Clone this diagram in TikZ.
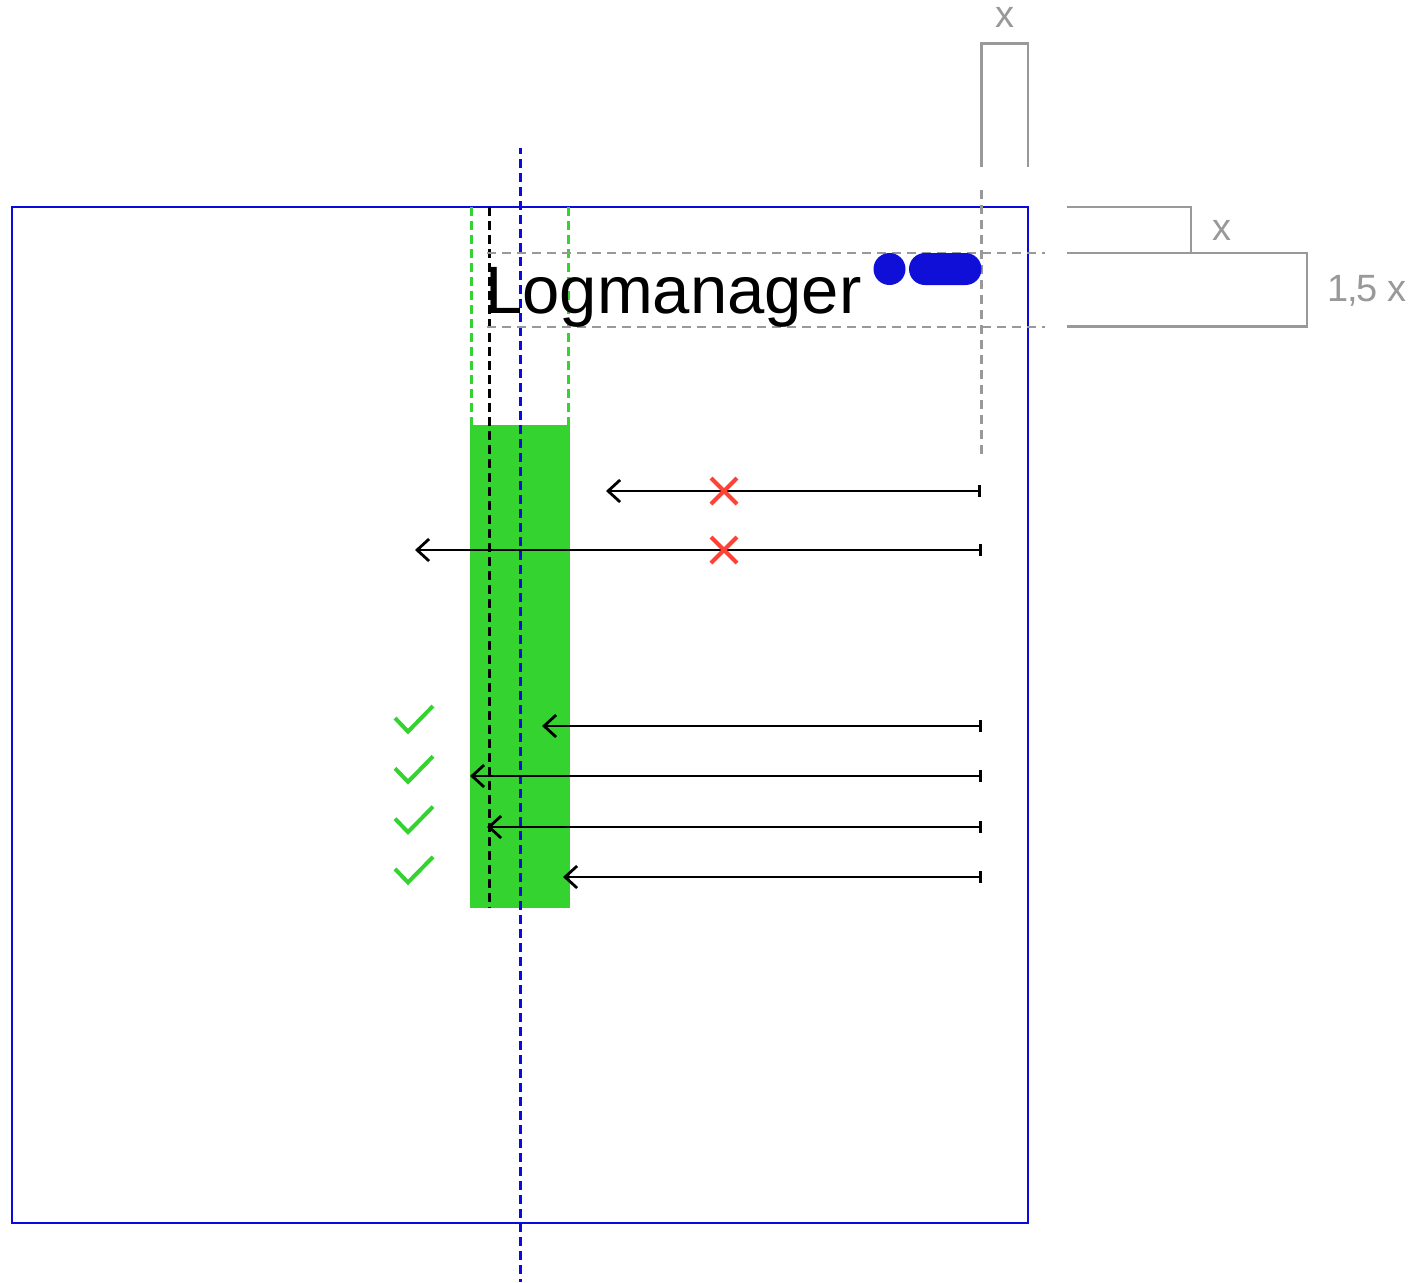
\documentclass[tikz,border=0pt]{standalone}
\usepackage{fontspec}
\setmainfont{Liberation Sans}
\usetikzlibrary{arrows.meta}
\definecolor{frameblue}{HTML}{0A0ADC}
\definecolor{pillblue}{HTML}{0F0FD7}
\definecolor{okgreen}{HTML}{34D330}
\definecolor{badred}{HTML}{FF4136}
\definecolor{guide}{HTML}{999999}
\tikzset{
  guidesolid/.style={draw=guide,line width=1.25pt,line join=miter},
  guidedash/.style={draw=guide,line width=1.3pt,dash pattern=on 4.5pt off 3pt},
  greendash/.style={draw=okgreen,line width=1.25pt,dash pattern=on 4.5pt off 2.5pt},
  blackdash/.style={draw=black,line width=1.5pt,dash pattern=on 4.5pt off 2.5pt},
  bluedash/.style={draw=frameblue,line width=1.5pt,dash pattern=on 4.5pt off 2.5pt,dash phase=1.5pt},
  reach/.style={draw=black,line width=1.4pt,{Straight Barb[length=6pt,width=11pt,line width=1.4pt]}-{Bar[width=6pt,line width=1.4pt]}},
  okmark/.style={draw=okgreen,line width=2pt},
  badmark/.style={draw=badred,line width=2pt},
  dimlabel/.style={text=guide,font=\fontsize{19}{22}\selectfont,inner sep=0pt,anchor=base},
  block/.style={fill=okgreen,draw=none,inner sep=0pt,minimum width=50pt,minimum height=241.5pt},
}
\begin{document}
\begin{tikzpicture}[x=0.5pt,y=-0.5pt]
\useasboundingbox (0,0) rectangle (1420,1282);
\fill[white] (0,0) rectangle (1420,1282);
\node[block] (band) at (520,666.5) {};
\draw[frameblue,line width=1.4pt] (12,207) rectangle (1028,1223);
\draw[greendash] (471.5,207) -- (471.5,425);
\draw[greendash] (568.5,207) -- (568.5,425);
\draw[blackdash] (489,207) -- (489,908);
\draw[bluedash] (520,148) -- (520,1282);
\draw[guidedash] (487,253) -- (1045,253);
\draw[guidedash] (487,327) -- (1045,327);
\draw[guidedash] (981.5,190) -- (981.5,455);
\draw[guidesolid] (981.5,167) -- (981.5,43.5) -- (1028,43.5) -- (1028,167);
\draw[guidesolid] (1067,207) -- (1191,207) -- (1191,253);
\draw[guidesolid] (1067,253) -- (1307,253) -- (1307,326.5) -- (1067,326.5);
\node[anchor=base west,inner sep=0pt,font=\fontsize{33.5}{36}\selectfont] (logo) at (485,313) {Logmanager};
\fill[pillblue] (889.5,269) circle (8pt);
\fill[pillblue,rounded corners=7.99pt] (909,253) rectangle (981.5,285);
\node[dimlabel] (xtop) at (1005,27) {x};
\node[dimlabel] (xside) at (1222,240) {x};
\node[dimlabel] (xonefive) at (1367,301) {\addfontfeatures{LetterSpace=-3}1,5 x};
\foreach \yy/\xa/\xb/\nm in {491/606/981/a,550/415/982/b,726/542/982/c,776/470/982/d,827/487/982/e,877/563/982/f}{
  \coordinate (tip\nm) at (\xa,\yy);
  \coordinate (tail\nm) at (\xb,\yy);
  \draw[reach] (tip\nm) -- (tail\nm);
}
\foreach \yy in {491,550}{
  \draw[badmark] (711,\yy-13) -- (737,\yy+13);
  \draw[badmark] (711,\yy+13) -- (737,\yy-13);
}
\foreach \dy in {0,50.3,100.6,150.9}{
  \draw[okmark] (395,718+\dy) -- (408,731.5+\dy) -- (433,706+\dy);
}
\end{tikzpicture}
\end{document}
